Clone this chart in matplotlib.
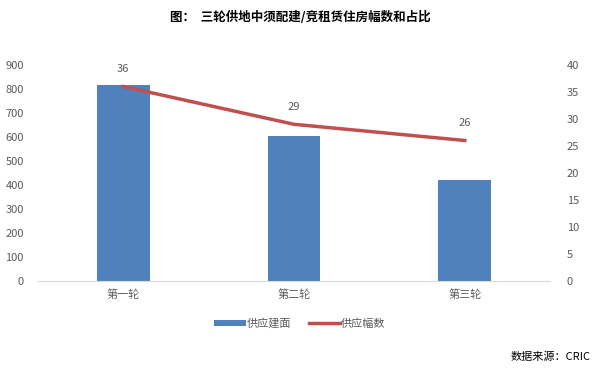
import matplotlib
matplotlib.use("Agg")
import matplotlib.pyplot as plt

plt.rcParams['font.family'] = ['Noto Sans CJK SC', 'DejaVu Sans']

categories = ["第一轮", "第二轮", "第三轮"]
area = [815, 605, 422]
counts = [36, 29, 26]
left_ticks = [0, 100, 200, 300, 400, 500, 600, 700, 800, 900]
right_ticks = [0, 5, 10, 15, 20, 25, 30, 35, 40]

fig = plt.figure(figsize=(6, 3.73), dpi=100)
ax = fig.add_axes([0.063, 0.247, 0.854, 0.579])
ax2 = ax.twinx()

x = list(range(len(categories)))
bars = ax.bar(x, area, width=0.31, color="#4F81BD", label="供应建面", zorder=2)
line, = ax2.plot(x, counts, color="#C0504D", lw=2.5, label="供应幅数", zorder=3)

for xi, v in zip(x, counts):
    ax2.annotate(str(v), (xi, v), xytext=(0, 9), textcoords="offset points",
                 ha="center", va="bottom", fontsize=8, color="#595959")

ax.set_xlim(-0.5, 2.5)
ax.set_ylim(0, 900)
ax2.set_ylim(0, 40)
ax.set_yticks(left_ticks)
ax2.set_yticks(right_ticks)
ax.set_xticks(x)
ax.set_xticklabels(categories)

for a in (ax, ax2):
    for s in a.spines.values():
        s.set_visible(False)
    a.tick_params(length=0, labelsize=8, labelcolor="#595959")
ax.spines['bottom'].set_visible(True)
ax.spines['bottom'].set_color("#D9D9D9")
ax.tick_params(axis='y', pad=10)
ax2.tick_params(axis='y', pad=12)
ax.tick_params(axis='x', pad=6)

fig.legend([bars, line], ["供应建面", "供应幅数"], loc="center", bbox_to_anchor=(0.5, 0.133),
           ncol=2, frameon=False, fontsize=8, handlelength=2.8, handleheight=0.4,
           columnspacing=1.6, handletextpad=0.1, labelcolor="#595959")

fig.text(0.5, 0.952, "图：  三轮供地中须配建/竞租赁住房幅数和占比", ha="center", va="center",
         fontsize=9, fontweight="bold", color="black")
fig.text(0.985, 0.043, "数据来源：CRIC", ha="right", va="center", fontsize=8, color="black")

fig.savefig("out.png", dpi=100)
